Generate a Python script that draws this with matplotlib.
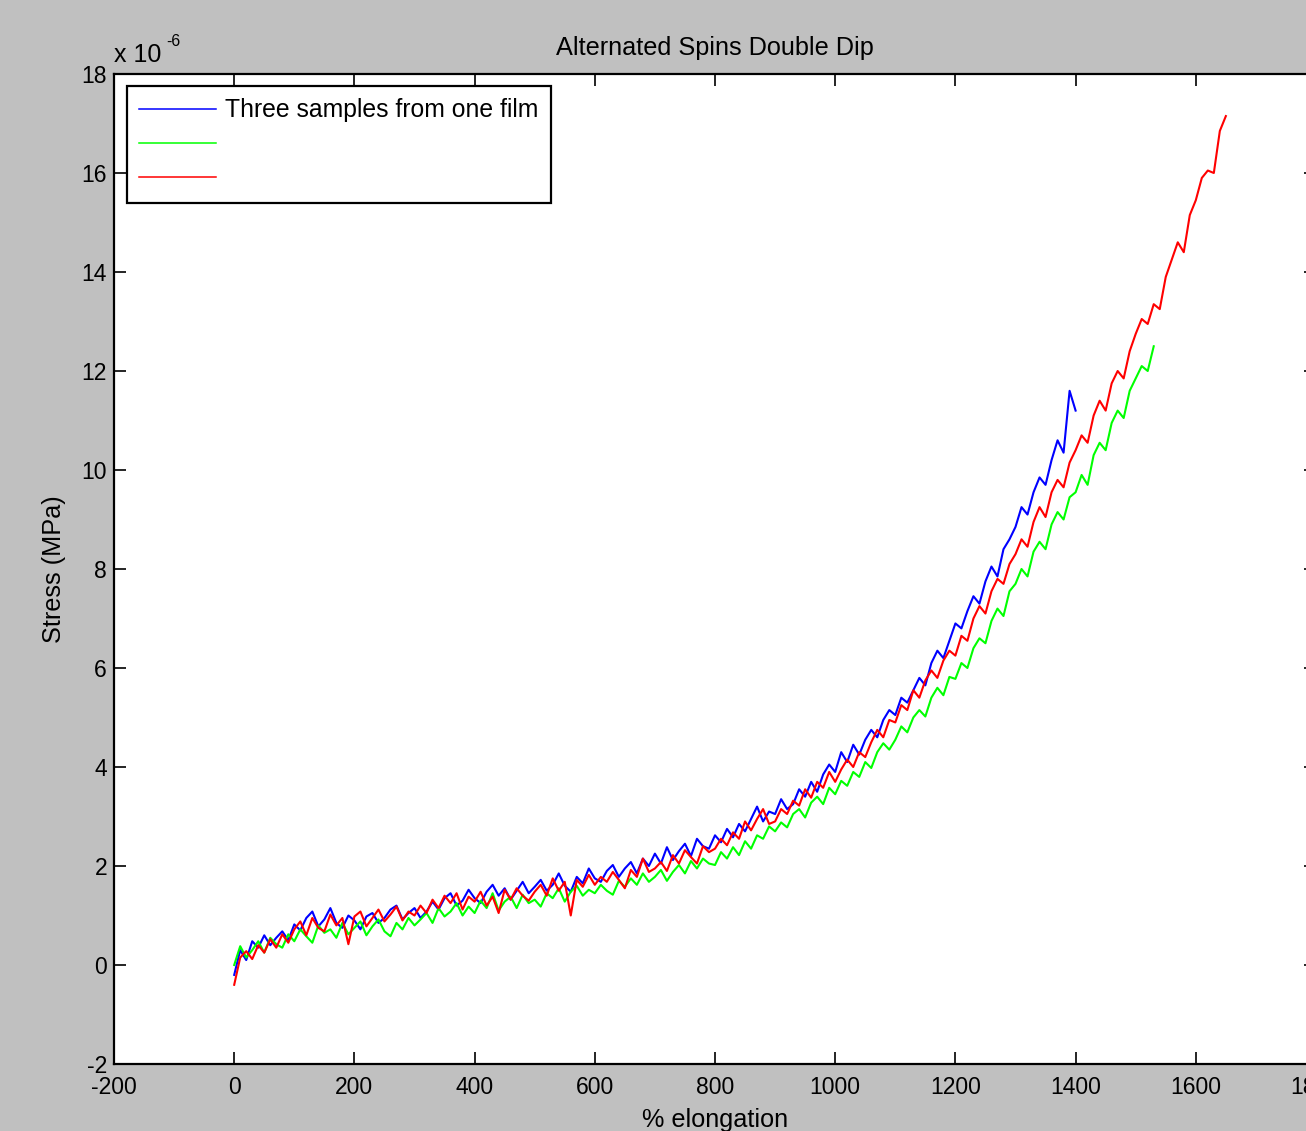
import numpy as np
import matplotlib
matplotlib.use("Agg")
import matplotlib.pyplot as plt

plt.rcParams['font.family'] = ['Liberation Sans', 'DejaVu Sans']
plt.rcParams['axes.unicode_minus'] = False

# % elongation grid for each sample
x_blue = np.arange(0, 1410, 10)
x_green = np.arange(0, 1540, 10)
x_red = np.arange(0, 1660, 10)

# stress values, in units of 1e-6 MPa
stress_blue = [
    -0.20, 0.30, 0.10, 0.48, 0.35, 0.60, 0.40, 0.55, 0.68, 0.50,
    0.82, 0.70, 0.95, 1.08, 0.78, 0.92, 1.15, 0.85, 0.75, 1.00,
    0.90, 0.72, 0.98, 1.05, 0.85, 0.95, 1.12, 1.20, 0.92, 1.05,
    1.15, 0.95, 1.08, 1.28, 1.12, 1.35, 1.45, 1.20, 1.30, 1.52,
    1.35, 1.25, 1.48, 1.62, 1.40, 1.55, 1.32, 1.50, 1.68, 1.45,
    1.58, 1.72, 1.50, 1.62, 1.85, 1.60, 1.48, 1.78, 1.65, 1.95,
    1.75, 1.68, 1.90, 2.02, 1.78, 1.95, 2.08, 1.85, 2.15, 2.00,
    2.25, 2.05, 2.38, 2.12, 2.30, 2.45, 2.20, 2.55, 2.40, 2.35,
    2.62, 2.48, 2.75, 2.58, 2.85, 2.70, 2.95, 3.20, 2.90, 3.10,
    3.05, 3.35, 3.15, 3.25, 3.55, 3.40, 3.70, 3.50, 3.85, 4.05,
    3.90, 4.30, 4.10, 4.45, 4.25, 4.55, 4.75, 4.60, 4.95, 5.15,
    5.05, 5.40, 5.30, 5.55, 5.80, 5.65, 6.10, 6.35, 6.20, 6.55,
    6.90, 6.80, 7.15, 7.45, 7.30, 7.75, 8.05, 7.85, 8.40, 8.60,
    8.85, 9.25, 9.10, 9.55, 9.85, 9.70, 10.20, 10.60, 10.35, 11.60,
    11.20,
]

stress_green = [
    0.00, 0.38, 0.15, 0.30, 0.48, 0.25, 0.55, 0.42, 0.35, 0.62,
    0.48, 0.72, 0.58, 0.45, 0.80, 0.65, 0.72, 0.55, 0.85, 0.62,
    0.75, 0.88, 0.60, 0.78, 0.92, 0.68, 0.58, 0.85, 0.72, 0.95,
    0.80, 0.92, 1.05, 0.85, 1.15, 0.98, 1.08, 1.25, 1.00, 1.18,
    1.05, 1.30, 1.15, 1.45, 1.10, 1.28, 1.38, 1.15, 1.42, 1.25,
    1.32, 1.18, 1.45, 1.35, 1.55, 1.28, 1.48, 1.60, 1.40, 1.52,
    1.45, 1.62, 1.50, 1.42, 1.70, 1.58, 1.75, 1.62, 1.85, 1.68,
    1.78, 1.92, 1.70, 1.88, 2.02, 1.85, 2.10, 1.95, 2.15, 2.05,
    2.02, 2.28, 2.15, 2.38, 2.22, 2.50, 2.35, 2.62, 2.55, 2.80,
    2.70, 2.88, 2.78, 3.05, 3.15, 2.98, 3.28, 3.40, 3.25, 3.58,
    3.45, 3.72, 3.62, 3.90, 3.80, 4.10, 3.98, 4.30, 4.48, 4.35,
    4.55, 4.82, 4.70, 5.00, 5.15, 5.02, 5.40, 5.60, 5.45, 5.82,
    5.78, 6.10, 6.00, 6.40, 6.60, 6.50, 6.95, 7.20, 7.05, 7.55,
    7.70, 8.00, 7.85, 8.35, 8.55, 8.40, 8.90, 9.15, 9.00, 9.45,
    9.55, 9.90, 9.70, 10.30, 10.55, 10.40, 10.95, 11.20, 11.05, 11.60,
    11.85, 12.10, 12.00, 12.50,
]

stress_red = [
    -0.40, 0.15, 0.28, 0.12, 0.40, 0.25, 0.52, 0.35, 0.62, 0.45,
    0.72, 0.88, 0.60, 0.95, 0.75, 0.68, 1.02, 0.80, 0.95, 0.42,
    0.98, 1.08, 0.78, 0.95, 1.12, 0.88, 1.02, 1.18, 0.90, 1.08,
    1.00, 1.20, 1.05, 1.32, 1.15, 1.40, 1.25, 1.45, 1.12, 1.38,
    1.28, 1.48, 1.20, 1.38, 1.05, 1.52, 1.32, 1.55, 1.40, 1.30,
    1.48, 1.62, 1.40, 1.75, 1.50, 1.68, 1.00, 1.72, 1.58, 1.82,
    1.62, 1.78, 1.68, 1.88, 1.72, 1.55, 1.92, 1.78, 2.15, 1.88,
    1.95, 2.08, 1.90, 2.22, 2.05, 2.32, 2.18, 2.05, 2.40, 2.28,
    2.35, 2.55, 2.42, 2.68, 2.55, 2.90, 2.72, 2.95, 3.15, 2.85,
    2.90, 3.15, 3.05, 3.32, 3.22, 3.55, 3.38, 3.70, 3.58, 3.90,
    3.70, 3.95, 4.15, 4.00, 4.30, 4.20, 4.50, 4.75, 4.60, 4.95,
    4.90, 5.25, 5.15, 5.55, 5.40, 5.75, 5.95, 5.80, 6.15, 6.35,
    6.25, 6.65, 6.55, 7.00, 7.25, 7.10, 7.55, 7.80, 7.70, 8.10,
    8.30, 8.60, 8.45, 8.95, 9.25, 9.05, 9.55, 9.80, 9.65, 10.15,
    10.40, 10.70, 10.55, 11.10, 11.40, 11.20, 11.75, 12.00, 11.85, 12.40,
    12.75, 13.05, 12.95, 13.35, 13.25, 13.90, 14.25, 14.60, 14.40, 15.15,
    15.45, 15.90, 16.05, 16.00, 16.85, 17.15,
]

legend_labels = ['Three samples from one film', ' ', ' ']
x_ticks = [-200, 0, 200, 400, 600, 800, 1000, 1200, 1400, 1600, 1800]
y_ticks = [-2, 0, 2, 4, 6, 8, 10, 12, 14, 16, 18]

W, H = 1306, 1131
fig = plt.figure(figsize=(W / 100, H / 100), dpi=100, facecolor='#c0c0c0')
# axes right edge runs past the figure (the screenshot is cropped)
ax = fig.add_axes([114 / W, (H - 1064) / H, (1316 - 114) / W, (1064 - 74) / H])

lb, = ax.plot(x_blue, stress_blue, color=(0, 0, 1), lw=1.5)
lg, = ax.plot(x_green, stress_green, color=(0, 1, 0), lw=1.5)
lr, = ax.plot(x_red, stress_red, color=(1, 0, 0), lw=1.5)

ax.set_xlim(-200, 1800)
ax.set_ylim(-2, 18)
ax.set_xticks(x_ticks)
ax.set_yticks(y_ticks)
ax.tick_params(direction='in', length=8.5, width=1.2, top=True, right=True,
               labelsize=16.5, colors='black')
ax.tick_params(axis='x', pad=9)
ax.tick_params(axis='y', pad=5)
for sp in ax.spines.values():
    sp.set_linewidth(1.6)

ax.set_title('Alternated Spins Double Dip', fontsize=18.2, pad=14)
ax.set_xlabel('% elongation', fontsize=18.2, labelpad=6)
ax.set_ylabel('Stress (MPa)', fontsize=18.2, labelpad=11)

fig.text(114 / W, 1 - 62 / H, 'x 10', fontsize=18, ha='left', va='baseline')
fig.text(166 / W, 1 - 46 / H, '-6', fontsize=11.5, ha='left', va='baseline')

leg = ax.legend([lb, lg, lr], legend_labels, loc='upper left',
                bbox_to_anchor=(13 / 1202, (1064 - 86) / 990), borderaxespad=0,
                fontsize=17.8, fancybox=False, framealpha=1, edgecolor='black',
                handlelength=3.1, handletextpad=0.36, borderpad=0.5,
                labelspacing=0.42)
leg.get_frame().set_linewidth(1.6)
for hl in leg.get_lines():
    hl.set_linewidth(1.1)

fig.savefig('out.png', dpi=100, facecolor=fig.get_facecolor())
